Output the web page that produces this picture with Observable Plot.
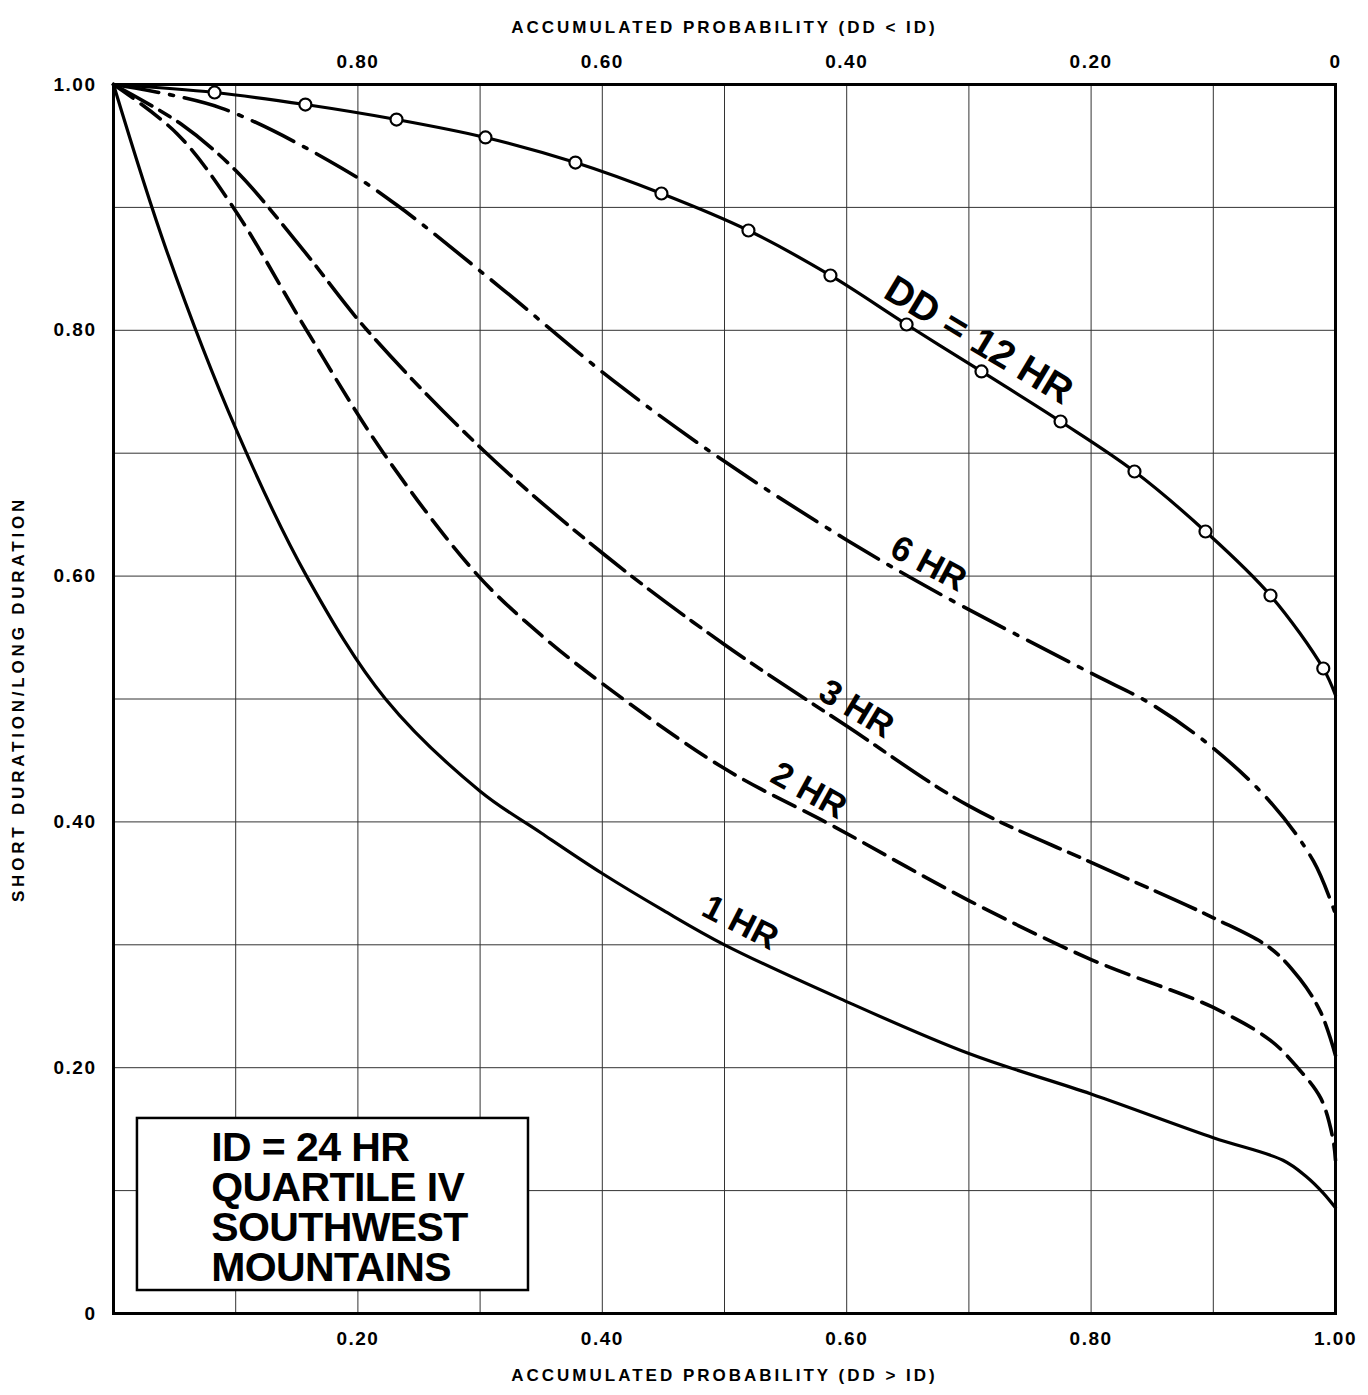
<!DOCTYPE html>
<html><head><meta charset="utf-8">
<script src="https://cdn.jsdelivr.net/npm/d3@7"></script>
<script src="https://cdn.jsdelivr.net/npm/@observablehq/plot@0.6"></script>
<style>
body{margin:0;background:#fff;}
#chart svg{display:block;}
</style>
</head><body><div id="chart"></div>
<script>
// ---- data ----
const hr1X = [0, 0.0434, 0.1007, 0.158, 0.2226, 0.30, 0.35, 0.40, 0.45, 0.50, 0.595, 0.70, 0.80, 0.90, 0.957, 0.976, 0.990, 1.0];
const hr1Y = [1.0, 0.865, 0.7185, 0.60, 0.500, 0.425, 0.391, 0.358, 0.328, 0.300, 0.256, 0.2115, 0.1786, 0.143, 0.1247, 0.1115, 0.098, 0.086];

const hr2X = [0, 0.052, 0.098, 0.158, 0.221, 0.2987, 0.350, 0.400, 0.499, 0.590, 0.700, 0.800, 0.900, 0.947, 0.969, 0.988, 0.998, 1.0];
const hr2Y = [1.0, 0.96, 0.90, 0.80, 0.70, 0.60, 0.552, 0.5126, 0.444, 0.396, 0.336, 0.288, 0.249, 0.222, 0.200, 0.175, 0.1416, 0.1245];

const hr3X = [0, 0.055, 0.100, 0.1555, 0.2076, 0.303, 0.401, 0.499, 0.600, 0.700, 0.800, 0.900, 0.947, 0.971, 0.988, 1.0];
const hr3Y = [1.0, 0.968, 0.930, 0.865, 0.80, 0.702, 0.618, 0.545, 0.478, 0.413, 0.367, 0.322, 0.297, 0.272, 0.245, 0.210];

const hr6X = [0, 0.0876, 0.1858, 0.2324, 0.3167, 0.409, 0.499, 0.6006, 0.679, 0.800, 0.849, 0.900, 0.947, 0.982, 1.0];
const hr6Y = [1.0, 0.981, 0.9325, 0.9015, 0.8348, 0.759, 0.694, 0.629, 0.584, 0.521, 0.496, 0.460, 0.4158, 0.368, 0.325];

const hr12X = [0, 0.0827, 0.157, 0.2316, 0.3044, 0.378, 0.4484, 0.5196, 0.5867, 0.649, 0.7103, 0.775, 0.8355, 0.8936, 0.9468, 0.990, 1.0];
const hr12Y = [1.0, 0.9935, 0.9837, 0.9715, 0.9569, 0.9365, 0.9113, 0.8812, 0.8446, 0.8047, 0.7665, 0.7258, 0.6851, 0.6363, 0.5842, 0.5248, 0.503];
const hr12MarkerX = [0.0827, 0.157, 0.2316, 0.3044, 0.378, 0.4484, 0.5196, 0.5867, 0.649, 0.7103, 0.775, 0.8355, 0.8936, 0.9468, 0.990];
const hr12MarkerY = [0.9935, 0.9837, 0.9715, 0.9569, 0.9365, 0.9113, 0.8812, 0.8446, 0.8047, 0.7665, 0.7258, 0.6851, 0.6363, 0.5842, 0.5248];

const curveLabels = ["1 HR", "2 HR", "3 HR", "6 HR", "DD = 12 HR"];
const curveLabelX = [0.513, 0.569, 0.608, 0.667, 0.708];
const curveLabelY = [0.318, 0.4255, 0.492, 0.610, 0.7917];

const gridTicks = [0, 0.1, 0.2, 0.3, 0.4, 0.5, 0.6, 0.7, 0.8, 0.9, 1.0];
const bottomTicks = [0.2, 0.4, 0.6, 0.8, 1.0];
const bottomTickLabels = ["0.20", "0.40", "0.60", "0.80", "1.00"];
const topTicks = [0.2, 0.4, 0.6, 0.8, 1.0];
const topTickLabels = ["0.80", "0.60", "0.40", "0.20", "0"];
const yTicks = [0, 0.2, 0.4, 0.6, 0.8, 1.0];
const yTickLabels = ["0", "0.20", "0.40", "0.60", "0.80", "1.00"];

const topTitle = "ACCUMULATED PROBABILITY (DD < ID)";
const bottomTitle = "ACCUMULATED PROBABILITY (DD > ID)";
const leftTitle = "SHORT DURATION/LONG DURATION";
const boxLines = ["ID = 24 HR", "QUARTILE IV", "SOUTHWEST", "MOUNTAINS"];

// ---- build tables ----
const toRows = (xs, ys, name) => xs.map((x, i) => ({x, y: ys[i], series: name}));
const rows1 = toRows(hr1X, hr1Y, "1 HR");
const rows2 = toRows(hr2X, hr2Y, "2 HR");
const rows3 = toRows(hr3X, hr3Y, "3 HR");
const rows6 = toRows(hr6X, hr6Y, "6 HR");
const rows12 = toRows(hr12X, hr12Y, "12 HR");
const markers12 = toRows(hr12MarkerX, hr12MarkerY, "12 HR");
const labelRows = curveLabels.map((t, i) => ({text: t, x: curveLabelX[i], y: curveLabelY[i]}));
const labelAngles = {"1 HR": 27, "2 HR": 29, "3 HR": 31, "6 HR": 28, "DD = 12 HR": 31};
const labelSizes = {"1 HR": 35, "2 HR": 35, "3 HR": 35, "6 HR": 35, "DD = 12 HR": 39};

const FONT = "'Liberation Sans', Arial, Helvetica, sans-serif";
const CURVE = "catmull-rom";

const chart = Plot.plot({
  width: 1368,
  height: 1395,
  marginLeft: 113,
  marginRight: 33,
  marginTop: 84,
  marginBottom: 82,
  x: {domain: [0, 1]},
  y: {domain: [0, 1]},
  style: {fontFamily: FONT, color: "black", background: "white"},
  marks: [
    Plot.gridX(gridTicks, {stroke: "#333", strokeOpacity: 1, strokeWidth: 1}),
    Plot.gridY(gridTicks, {stroke: "#333", strokeOpacity: 1, strokeWidth: 1}),
    Plot.line(rows1, {x: "x", y: "y", stroke: "black", strokeWidth: 3.2, curve: CURVE}),
    Plot.line(rows2, {x: "x", y: "y", stroke: "black", strokeWidth: 3.6, curve: CURVE, strokeDasharray: "24,10"}),
    Plot.line(rows3, {x: "x", y: "y", stroke: "black", strokeWidth: 3.6, curve: CURVE, strokeDasharray: "44,9,12,9"}),
    Plot.line(rows6, {x: "x", y: "y", stroke: "black", strokeWidth: 3.6, curve: CURVE, strokeDasharray: "46,11,4,11"}),
    Plot.line(rows12, {x: "x", y: "y", stroke: "black", strokeWidth: 3.2, curve: CURVE}),
    Plot.dot(markers12, {x: "x", y: "y", r: 6, fill: "white", stroke: "black", strokeWidth: 2.2}),
    Plot.text(labelRows, {x: "x", y: "y", text: "text", rotate: d => labelAngles[d.text], fontSize: d => labelSizes[d.text], fontWeight: "bold", fill: "black"}),
    Plot.frame({stroke: "black", strokeWidth: 3}),
    Plot.rect([{x1: 0.0196, x2: 0.3396, y1: 0.0187, y2: 0.1587}], {x1: "x1", x2: "x2", y1: "y1", y2: "y2", fill: "white", stroke: "black", strokeWidth: 2.5}),
    Plot.text([boxLines.join("\n")], {x: 0.080, y: 0.1473, text: d => d, textAnchor: "start", lineAnchor: "top", lineHeight: 0.975, fontSize: 41, fontWeight: "bold", fill: "black"}),
    Plot.axisX(bottomTicks, {anchor: "bottom", tickSize: 0, tickPadding: 18, tickFormat: d => bottomTickLabels[bottomTicks.indexOf(d)], fontSize: 19, fontWeight: "bold", label: null}),
    Plot.axisX(topTicks, {anchor: "top", tickSize: 0, tickPadding: 17, tickFormat: d => topTickLabels[topTicks.indexOf(d)], fontSize: 19, fontWeight: "bold", label: null}),
    Plot.axisY(yTicks, {anchor: "left", tickSize: 0, tickPadding: 17, tickFormat: d => yTickLabels[yTicks.indexOf(d)], fontSize: 19, fontWeight: "bold", label: null}),
    Plot.text([topTitle], {frameAnchor: "top", dy: -64, text: d => d, fontSize: 17, fontWeight: "bold", fill: "black"}),
    Plot.text([bottomTitle], {frameAnchor: "bottom", dy: 67, text: d => d, fontSize: 17, fontWeight: "bold", fill: "black"}),
    Plot.text([leftTitle], {frameAnchor: "left", dx: -95, rotate: -90, textAnchor: "middle", text: d => d, fontSize: 17, fontWeight: "bold", fill: "black"})
  ]
});

document.getElementById("chart").appendChild(chart);

// letter spacing for the wide typewriter-like lettering
const titleSet = new Set([topTitle, bottomTitle]);
const tickSet = new Set([...bottomTickLabels, ...topTickLabels, ...yTickLabels]);
d3.select(chart).selectAll("text").each(function() {
  const t = this.textContent;
  if (titleSet.has(t)) this.setAttribute("letter-spacing", "3.0");
  else if (t === leftTitle) this.setAttribute("letter-spacing", "3.8");
  else if (tickSet.has(t)) this.setAttribute("letter-spacing", "1.5");
  else if (boxLines.includes(t)) this.setAttribute("letter-spacing", "-0.6");
});
d3.select(chart).selectAll("tspan").each(function() {
  if (boxLines.includes(this.textContent)) this.parentNode.setAttribute("letter-spacing", "-0.6");
});
</script>
</body></html>
